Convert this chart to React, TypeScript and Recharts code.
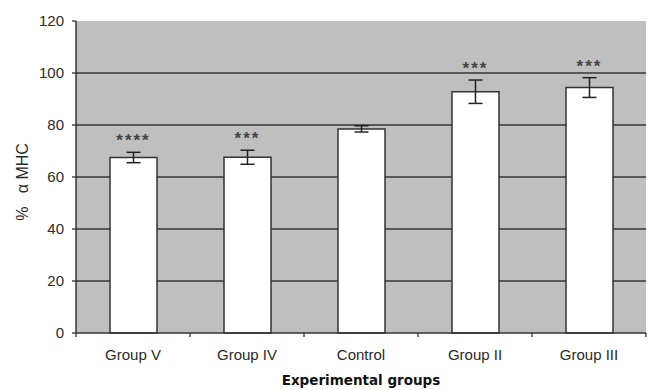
import { ComposedChart, Bar, XAxis, YAxis, CartesianGrid, ErrorBar, LabelList, Label } from "recharts";

// values
const groups = ["Group V", "Group IV", "Control", "Group II", "Group III"];
const mhc = [67.5, 67.6, 78.5, 92.8, 94.4];
const sem = [2.0, 2.7, 1.2, 4.5, 3.8];
const stars = ["****", "***", "", "***", "***"];
const yTicks = [0, 20, 40, 60, 80, 100, 120];
const gridValues = [20, 40, 60, 80, 100];

const W = 649;
const H = 390;
const M = { top: 21, right: 3, bottom: 0, left: 26 };
const Y_AXIS_W = 50;
const X_AXIS_H = 57;
const Y_MAX = 120;
const plotW = W - M.left - Y_AXIS_W - M.right;
const plotH = H - M.top - M.bottom - X_AXIS_H;
const band = plotW / groups.length;

const data = groups.map((g, i) => ({ group: g, value: mhc[i], err: sem[i], sig: stars[i] }));

const font = "'Liberation Sans', Arial, sans-serif";

const GroupTick = (props: any) => {
  const { x, y, payload, index } = props;
  const left = x - band / 2;
  return (
    <g>
      <line x1={left} y1={y} x2={left} y2={y + 4} stroke="#333" strokeWidth={1.3} />
      {index === groups.length - 1 && (
        <line x1={left + band} y1={y} x2={left + band} y2={y + 4} stroke="#333" strokeWidth={1.3} />
      )}
      <text x={x} y={y + 27} textAnchor="middle" fontSize={15} fill="#2a2a2a" fontFamily={font}>
        {payload.value}
      </text>
    </g>
  );
};

const StarLabel = (props: any) => {
  const { x, y, width, value, index } = props;
  if (!value) return null;
  const errPx = (sem[index] * plotH) / Y_MAX;
  return (
    <text
      x={x + width / 2}
      y={y - errPx - 6}
      textAnchor="middle"
      fontSize={17}
      letterSpacing={2}
      fontWeight="bold"
      fill="#444"
      fontFamily={font}
    >
      {value}
    </text>
  );
};

const XTitle = (props: any) => {
  const { viewBox } = props;
  return (
    <text
      x={viewBox.x + viewBox.width / 2}
      y={viewBox.y + 52}
      textAnchor="middle"
      fontSize={13.5}
      fontWeight="bold"
      fill="#111"
      fontFamily="'DejaVu Sans', Verdana, sans-serif"
    >
      Experimental groups
    </text>
  );
};

const YTitle = () => (
  <text
    transform="translate(28, 182) rotate(-90)"
    textAnchor="middle"
    fontSize={16}
    fill="#2a2a2a"
    fontFamily={font}
    style={{ whiteSpace: "pre" }}
  >
    {"%   α MHC"}
  </text>
);

export default function App() {
  return (
    <div style={{ position: "absolute", top: 0, left: 0, width: W, height: H, background: "#fff" }}>
      <ComposedChart width={W} height={H} data={data} margin={M}>
        <CartesianGrid
          vertical={false}
          horizontalValues={gridValues}
          fill="#bfbfbf"
          stroke="#363636"
          strokeWidth={1.6}
        />
        <XAxis
          dataKey="group"
          height={X_AXIS_H}
          tickLine={false}
          tickSize={0}
          tickMargin={0}
          interval={0}
          axisLine={{ stroke: "#333", strokeWidth: 1.5 }}
          tick={<GroupTick />}
        >
          <Label content={<XTitle />} />
        </XAxis>
        <YAxis
          width={Y_AXIS_W}
          domain={[0, Y_MAX]}
          ticks={yTicks}
          interval={0}
          tickSize={4}
          tickMargin={8}
          axisLine={{ stroke: "#333", strokeWidth: 1.5 }}
          tickLine={{ stroke: "#333", strokeWidth: 1.3 }}
          tick={{ fontSize: 15, fill: "#2a2a2a", fontFamily: font }}
        >
          <Label content={<YTitle />} />
        </YAxis>
        <Bar dataKey="value" fill="#ffffff" stroke="#333" strokeWidth={1.5} barSize={47} isAnimationActive={false}>
          <ErrorBar dataKey="err" width={7} stroke="#222" strokeWidth={1.5} />
          <LabelList dataKey="sig" content={<StarLabel />} />
        </Bar>
      </ComposedChart>
    </div>
  );
}
